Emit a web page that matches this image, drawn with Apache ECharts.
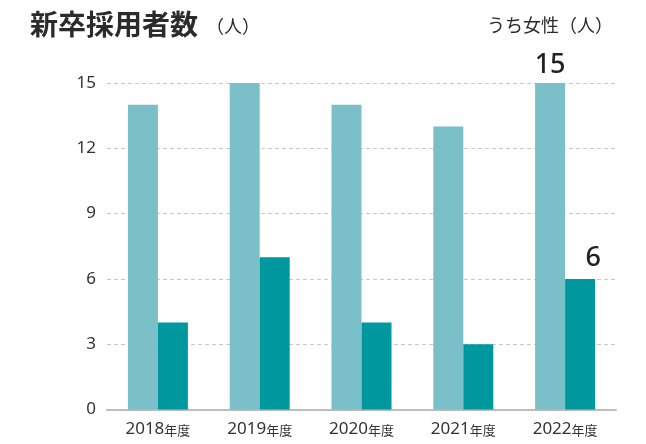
<!DOCTYPE html>
<html><head><meta charset="utf-8">
<script src="https://cdn.jsdelivr.net/npm/echarts@6/dist/echarts.min.js"></script>
<style>html,body{margin:0;padding:0;background:#fff}#c{width:646px;height:444px}</style>
</head><body><div id="c"></div>
<script>
const categories = ['2018', '2019', '2020', '2021', '2022'];
const totalHires = [14, 15, 14, 13, 15];
const femaleHires = [4, 7, 4, 3, 6];
const yTicks = [0, 3, 6, 9, 12, 15];
const titleMain = '新卒採用者数';
const titleUnit = '（人）';
const subTitle = 'うち女性（人）';

const font = '"Noto Sans", "Noto Sans CJK JP", sans-serif';
const cjk = '"Noto Sans CJK JP", sans-serif';
const chart = echarts.init(document.getElementById('c'));
const lastIdx = categories.length - 1;
chart.setOption({
  animation: false,
  textStyle: { fontFamily: font },
  title: [
    { text: '{a|' + titleMain + '}{b|' + titleUnit + '}', left: 25, top: 5,
      textStyle: { rich: {
        a: { fontSize: 28, fontWeight: 'bold', color: '#2b2b2b', fontFamily: cjk },
        b: { fontSize: 18, fontWeight: 'normal', color: '#2b2b2b', fontFamily: cjk, padding: [4, 0, 0, 8] } } } },
    { text: subTitle, right: 28, top: 11,
      textStyle: { fontSize: 18, fontWeight: 'normal', color: '#2b2b2b', fontFamily: cjk } }
  ],
  grid: { left: 107, right: 30, top: 83, bottom: 34.5, containLabel: false },
  xAxis: {
    type: 'category', data: categories,
    axisLine: { lineStyle: { color: '#bdbdbd', width: 2 } },
    axisTick: { show: false },
    axisLabel: { margin: 11, interval: 0, formatter: v => '{y|' + v + '}{n|年度}',
      rich: { y: { fontSize: 17, color: '#333', fontFamily: font },
              n: { fontSize: 13, color: '#333', fontFamily: cjk, padding: [3, 0, 0, 0] } } }
  },
  yAxis: {
    type: 'value', min: yTicks[0], max: yTicks[yTicks.length - 1], interval: 3,
    axisLine: { show: false }, axisTick: { show: false },
    axisLabel: { margin: 11, fontSize: 17, color: '#333', fontFamily: font },
    splitLine: { lineStyle: { color: '#c8c8c8', type: [4, 3], width: 1 } }
  },
  series: [
    { type: 'bar', data: totalHires.map((v, i) => i === lastIdx ? { value: v, label: { show: true } } : v),
      barWidth: 30, barGap: '0%', itemStyle: { color: '#7bbfc8' },
      label: { show: false, position: 'top', distance: 4, fontSize: 27, fontWeight: 500, color: '#222', fontFamily: font } },
    { type: 'bar', data: femaleHires.map((v, i) => i === lastIdx ? { value: v, label: { show: true } } : v),
      barWidth: 30, itemStyle: { color: '#00989f' },
      label: { show: false, position: 'top', distance: 7, offset: [13, 0], fontSize: 27, fontWeight: 500, color: '#222', fontFamily: font } }
  ]
});
</script></body></html>
